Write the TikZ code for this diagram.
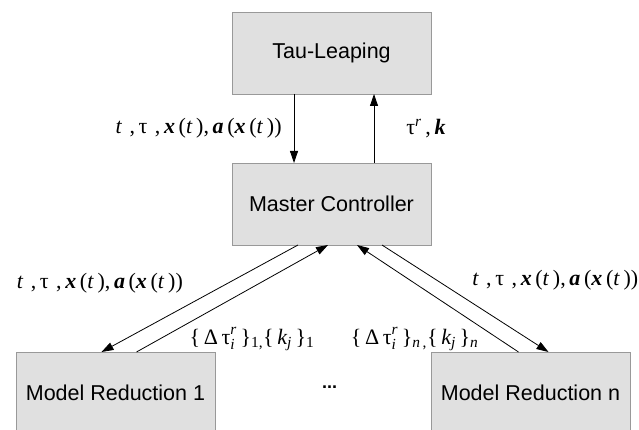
\documentclass[tikz,border=0pt]{standalone}
\usepackage{amsmath}
\usepackage{fontspec}
\setmainfont{Liberation Sans}
\newfontfamily\lblfont{Liberation Serif}
\usetikzlibrary{positioning,arrows.meta}

% letters of the labels
\newcommand{\vi}[1]{\text{\lblfont\itshape #1}}
\newcommand{\vu}[1]{\text{\lblfont #1}}
\newcommand{\statelbl}{\textit{t}\,\,,\,τ\,\,,\,\textbf{\textit{x}}\,(\textit{t}\,),\,\textbf{\textit{a}}\,(\textbf{\textit{x}}\,(\textit{t}\,))}
\newcommand{\redlbl}[2]{$\vu{\{\,Δ\,τ}^{\vi{r}}_{\vi{i}}\vu{\,\}}_{\vu{#1}}\vu{\{\,}\vi{k}_{\vi{j}}\vu{\,\}}_{\vu{#2}}$}

\tikzset{
  block/.style={rectangle, draw=black!40, fill=black!12, minimum width=199pt, minimum height=82pt, outer sep=0pt, font=\fontsize{21.5}{24}\selectfont},
  flow/.style={-{Triangle[length=12pt,width=8pt]}, line width=0.8pt},
  lbl/.style={font=\lblfont\fontsize{22}{26}\selectfont, inner sep=0pt}
}

\begin{document}
\begin{tikzpicture}
      \useasboundingbox (0,0) rectangle (639pt,-430pt);

      \node[block] (tau) at (331.5pt,-53pt) {Tau-Leaping};
      \node[block] (master) [below = 69pt of tau] {Master Controller};
      \node[block] (red1) [below left = 107pt and 17pt of master] {Model Reduction 1};
      \node[block] (redn) [below right = 107pt and 0pt of master] {Model Reduction n};
      \node[font=\bfseries\fontsize{18}{24}\selectfont] (dots) at (329.5pt,-387pt) {...};

      % tau-leaping <-> master
      \draw[flow] ([xshift=-37.5pt]tau.south) -- ([xshift=-37.5pt]master.north)
            node[lbl, midway, left=12pt] {\statelbl};
      \draw[flow] ([xshift=42.5pt]master.north) -- ([xshift=42.5pt]tau.south)
            node[lbl, midway, right=32pt] {τ$^{\vi{r}}$\,,\,\textbf{\textit{k}}};

      % master <-> reductions
      \draw[flow] ([xshift=-33.5pt]master.south) -- ([xshift=-14pt]red1.north)
            node[lbl, pos=0.36, left=44pt] {\statelbl};
      \draw[flow] ([xshift=21pt]red1.north) -- ([xshift=-3.5pt]master.south)
            node[lbl, pos=0.16, right=22pt, yshift=-4pt] {\redlbl{1,}{1}};
      \draw[flow] ([xshift=-12pt]redn.north) -- ([xshift=25.5pt]master.south)
            node[lbl, pos=0.16, left=14pt, yshift=-4pt] {\redlbl{\textit{n}\,,}{\textit{n}}};
      \draw[flow] ([xshift=50.5pt]master.south) -- ([xshift=18pt]redn.north)
            node[lbl, pos=0.33, right=35pt] {\statelbl};
\end{tikzpicture}
\end{document}
